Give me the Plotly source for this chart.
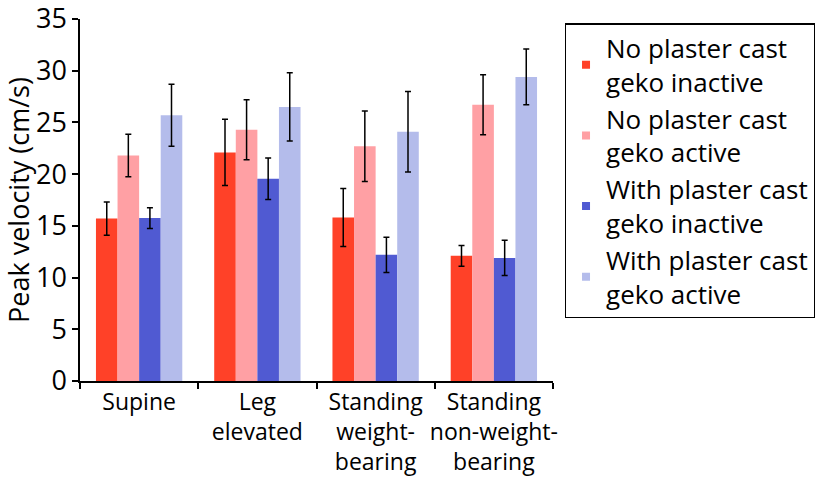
import plotly.graph_objects as go

categories = ["Supine", "Leg<br>elevated", "Standing<br>weight-<br>bearing", "Standing<br>non-weight-<br>bearing"]
series_names = [
    "No plaster cast<br>geko inactive",
    "No plaster cast<br>geko active",
    "With plaster cast<br>geko inactive",
    "With plaster cast<br>geko active",
]
no_cast_inactive = [15.7, 22.1, 15.8, 12.1]
no_cast_inactive_err = [1.6, 3.2, 2.8, 1.0]
no_cast_active = [21.8, 24.3, 22.7, 26.7]
no_cast_active_err = [2.05, 2.9, 3.4, 2.9]
cast_inactive = [15.75, 19.55, 12.2, 11.9]
cast_inactive_err = [1.0, 2.0, 1.7, 1.7]
cast_active = [25.7, 26.5, 24.1, 29.4]
cast_active_err = [3.0, 3.3, 3.9, 2.7]

colors = ["#FF4128", "#FFA0A4", "#505AD2", "#B4BCEB"]
values = [no_cast_inactive, no_cast_active, cast_inactive, cast_active]
errors = [no_cast_inactive_err, no_cast_active_err, cast_inactive_err, cast_active_err]

FONT = "Open Sans"
fig = go.Figure()
for name, v, e, c in zip(series_names, values, errors, colors):
    fig.add_trace(go.Bar(
        x=categories, y=v, name=name, marker=dict(color=c, line=dict(width=0)),
        error_y=dict(type="data", array=e, color="black", thickness=1.5, width=3),
        showlegend=False,
    ))
for i, (name, c) in enumerate(zip(series_names, colors)):
    fig.add_trace(go.Scatter(
        x=[None], y=[None], mode="markers", name=name,
        marker=dict(symbol="square", size=8, color=c),
        legendgroup=f"g{i}", showlegend=True,
    ))

fig.update_layout(
    width=829, height=479,
    margin=dict(l=80, r=276, t=19, b=98),
    paper_bgcolor="white", plot_bgcolor="white",
    barmode="group", bargap=0.27, bargroupgap=0,
    font=dict(family=FONT, size=22, color="black"),
    showlegend=True,
    legend=dict(
        x=1.025, y=0.988, xanchor="left", yanchor="top",
        bordercolor="black", borderwidth=1.2,
        font=dict(family=FONT, size=26, color="black"),
        tracegroupgap=0, itemwidth=30,
    ),
)
fig.update_yaxes(
    range=[0, 35], dtick=5, showgrid=False, zeroline=False, automargin=False,
    showline=True, linecolor="black", linewidth=1.5,
    ticks="outside", ticklen=6, tickcolor="black", tickwidth=1.5,
    tickfont=dict(size=27), ticklabeloverflow="allow",
    title=dict(text="Peak velocity (cm/s)", font=dict(size=27), standoff=3),
)
fig.update_xaxes(
    showgrid=False, showline=True, linecolor="black", linewidth=1.5, automargin=False,
    ticks="outside", tickson="boundaries", ticklen=6, tickcolor="black", tickwidth=1.5,
    tickfont=dict(size=23), tickangle=0, ticklabeloverflow="allow",
)
fig.write_html("out.html", config={"displayModeBar": False},
               post_script="document.body.style.margin='0';")
